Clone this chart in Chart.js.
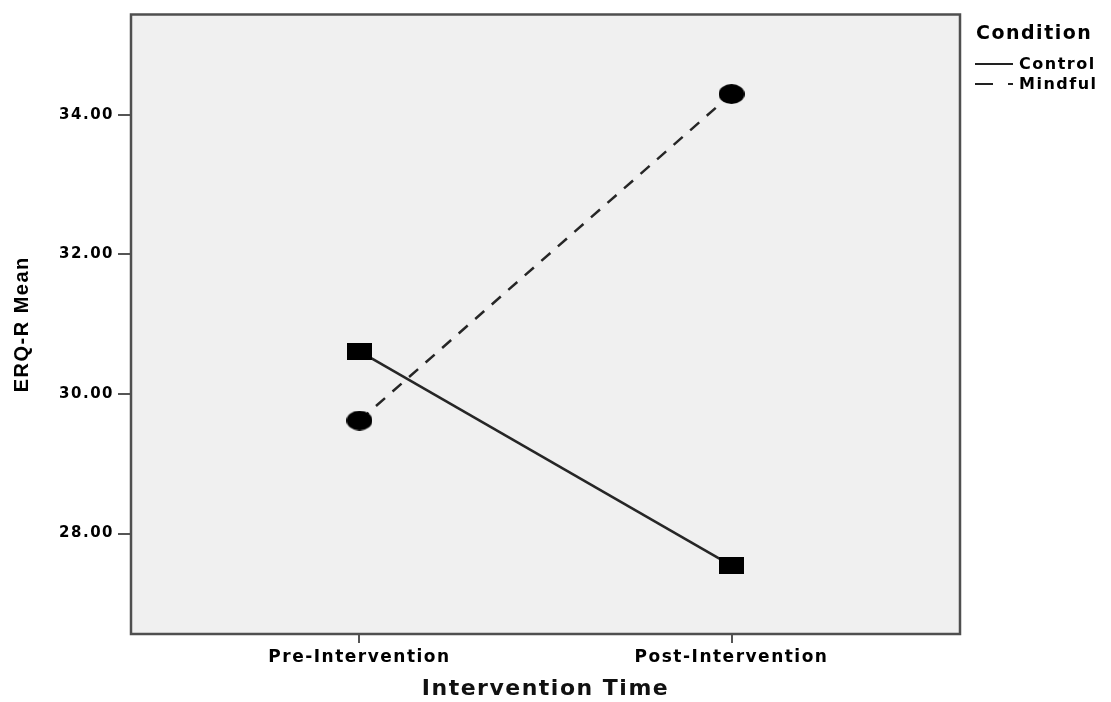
<!DOCTYPE html>
<html>
<head>
<meta charset="utf-8">
<script src="https://cdn.jsdelivr.net/npm/chart.js@4"></script>
<style>
    html, body { margin: 0; padding: 0; background: #ffffff; }
    #grafica { display: block; }
</style>
</head>
<body>
<canvas id="grafica" width="1111" height="702"></canvas>
<script>
"use strict";

const categorias = ["Pre-Intervention", "Post-Intervention"];
const controlMedias = [30.61, 27.54];
const mindfulMedias = [29.62, 34.30];
const ticksY = [28, 30, 32, 34];
const tituloLeyenda = "Condition";

const fuenteSpss = "'DejaVu Sans', Verdana, sans-serif";
const espaciado = "1.5px";

/**
 * Marcadores: cuadro para Control, elipse para Mindful
 */
function marcador(tipo, ancho, alto) {
    const c = document.createElement("canvas");
    c.width = ancho;
    c.height = alto;
    const g = c.getContext("2d");
    g.fillStyle = "#000000";
    if (tipo === "rect") {
        g.fillRect(0, 0, ancho, alto);
    } else {
        g.beginPath();
        g.ellipse(ancho / 2, alto / 2, ancho / 2, alto / 2, 0, 0, Math.PI * 2);
        g.fill();
    }
    return c;
}

const aPuntos = (valores) => valores.map((v, i) => ({ x: i + 1, y: v }));

/**
 * Fondo gris y marco del area de la grafica
 */
const fondoMarco = {
    id: "fondoMarco",
    beforeDraw(chart) {
        const { ctx, chartArea: a } = chart;
        ctx.letterSpacing = espaciado;
        ctx.save();
        ctx.fillStyle = "#f0f0f0";
        ctx.fillRect(a.left, a.top, a.right - a.left, a.bottom - a.top);
        ctx.restore();
    },
    beforeDatasetsDraw(chart) {
        const { ctx, chartArea: a } = chart;
        ctx.save();
        ctx.strokeStyle = "#4f4f4f";
        ctx.lineWidth = 2.5;
        ctx.strokeRect(a.left, a.top, a.right - a.left, a.bottom - a.top);
        ctx.restore();
    },
};

/**
 * Leyenda a la derecha, como en SPSS
 */
const leyenda = {
    id: "leyenda",
    afterDraw(chart) {
        const { ctx } = chart;
        ctx.save();
        ctx.letterSpacing = espaciado;
        ctx.fillStyle = "#000000";
        ctx.textBaseline = "middle";
        ctx.textAlign = "left";
        ctx.font = "bold 19px " + fuenteSpss;
        ctx.fillText(tituloLeyenda, 976, 34);

        ctx.font = "bold 16px " + fuenteSpss;
        chart.data.datasets.forEach((ds, i) => {
            const y = 64 + i * 20;
            ctx.strokeStyle = "#222222";
            ctx.lineWidth = 2;
            ctx.setLineDash(ds.borderDash && ds.borderDash.length ? [18, 15] : []);
            ctx.beginPath();
            ctx.moveTo(975, y);
            ctx.lineTo(1013, y);
            ctx.stroke();
            ctx.setLineDash([]);
            ctx.fillText(ds.label, 1019, y + 1);
        });
        ctx.restore();
    },
};

const grafica = document.querySelector("#grafica");

const chart = new Chart(grafica, {
    type: "line",
    data: {
        datasets: [
            {
                label: "Control",
                data: aPuntos(controlMedias),
                borderColor: "#262626",
                borderWidth: 2.5,
                pointStyle: marcador("rect", 25, 17),
                pointRadius: 12,
                clip: false,
            },
            {
                label: "Mindful",
                data: aPuntos(mindfulMedias),
                borderColor: "#262626",
                borderWidth: 2.5,
                borderDash: [12, 10],
                pointStyle: marcador("ellipse", 26, 20),
                pointRadius: 12,
                clip: false,
            },
        ],
    },
    options: {
        responsive: false,
        animation: false,
        layout: {
            padding: { top: 13, right: 151, left: 0, bottom: 0 },
        },
        plugins: {
            legend: { display: false },
            tooltip: { enabled: false },
        },
        scales: {
            x: {
                type: "linear",
                min: 0.386,
                max: 2.614,
                afterBuildTicks: (scale) => {
                    scale.ticks = categorias.map((c, i) => ({ value: i + 1 }));
                },
                afterFit: (scale) => {
                    scale.height = 68;
                },
                border: { display: false },
                grid: {
                    drawOnChartArea: false,
                    drawTicks: true,
                    tickLength: 9,
                    color: "#555555",
                    lineWidth: 2,
                },
                ticks: {
                    autoSkip: false,
                    maxRotation: 0,
                    padding: 4,
                    color: "#000000",
                    font: { family: fuenteSpss, size: 17, weight: "bold" },
                    callback: (value) => categorias[value - 1],
                },
                title: {
                    display: true,
                    text: "Intervention Time",
                    color: "#111111",
                    font: { family: fuenteSpss, size: 22, weight: "bold" },
                    padding: { top: 0, bottom: 0 },
                },
            },
            y: {
                type: "linear",
                min: 26.56,
                max: 35.44,
                afterBuildTicks: (scale) => {
                    scale.ticks = ticksY.map((v) => ({ value: v }));
                },
                afterFit: (scale) => {
                    scale.width = 131;
                },
                border: { display: false },
                grid: {
                    drawOnChartArea: false,
                    drawTicks: true,
                    tickLength: 13,
                    color: "#555555",
                    lineWidth: 2,
                },
                ticks: {
                    padding: 4,
                    color: "#000000",
                    font: { family: fuenteSpss, size: 15, weight: "bold" },
                    callback: (value) => Number(value).toFixed(2),
                },
                title: {
                    display: true,
                    text: "ERQ-R Mean",
                    color: "#000000",
                    font: { family: "'Liberation Sans', Arial, sans-serif", size: 20, weight: "bold" },
                    padding: { top: 10, bottom: 0 },
                },
            },
        },
    },
    plugins: [fondoMarco, leyenda],
});
</script>
</body>
</html>
